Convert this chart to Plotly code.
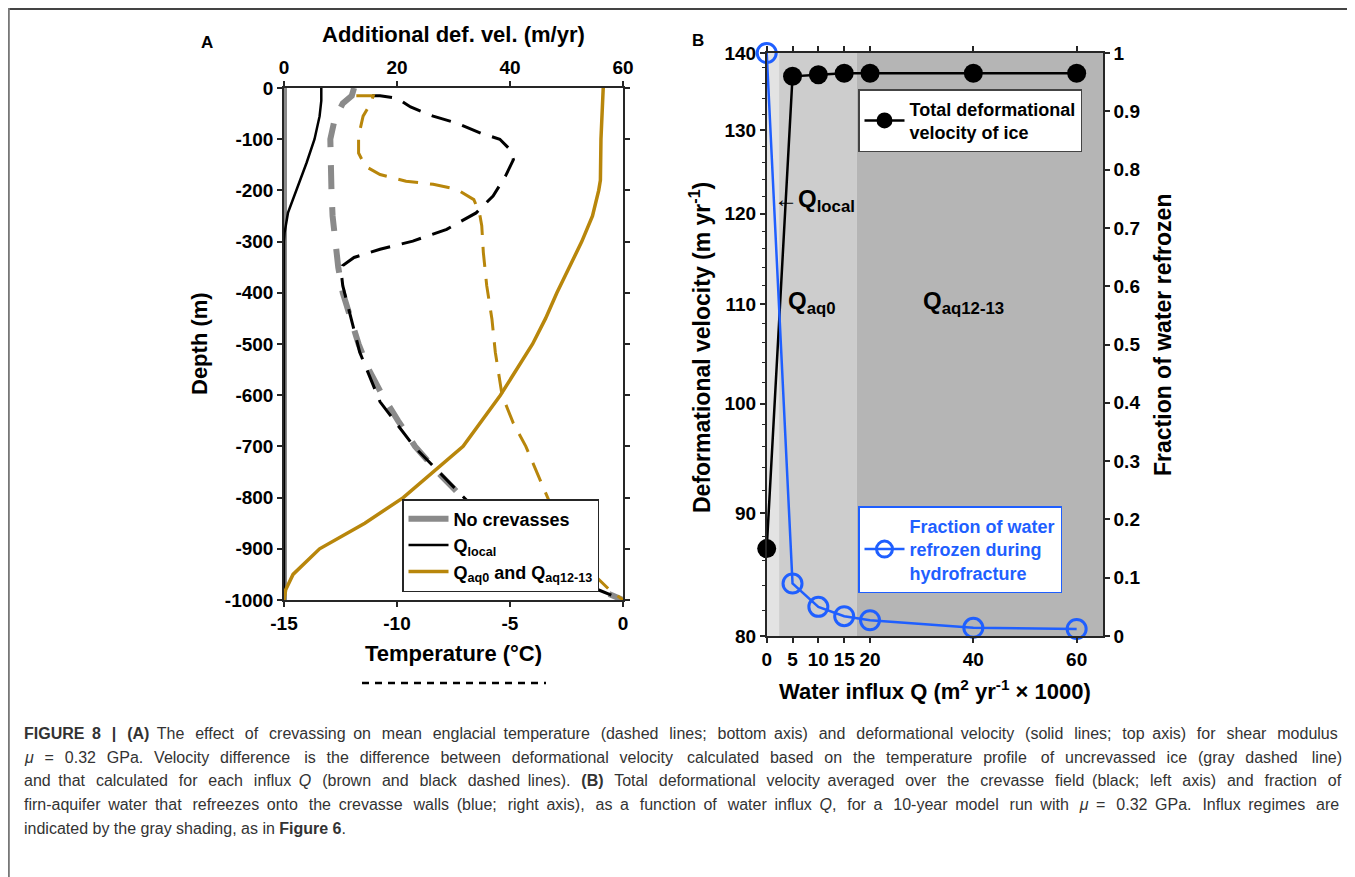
import plotly.graph_objects as go
import math

PAGE_W, PAGE_H = 1355, 877
OFF = 8                      # the page body margin in front of the figure
W, H = PAGE_W - OFF, PAGE_H - OFF

# ---------------- Panel A data ----------------
# Temperature profiles (dashed, bottom axis, degC)
depth_noc_T = [0, -15, -30, -60, -100, -150, -200, -250, -300, -350, -400, -450, -500,
               -550, -600, -650, -700, -750, -800, -850, -900, -950, -980, -1000]
temp_noc = [-11.9, -12.0, -12.4, -12.75, -12.95, -12.95, -12.9, -12.85, -12.75, -12.6, -12.4,
            -12.05, -11.7, -11.25, -10.65, -9.95, -9.2, -8.2, -7.1, -5.9, -4.5, -2.6, -1.1, 0.0]

depth_local_T = [-15, -15, -20, -37, -55, -68, -88, -100, -120, -140, -172, -211, -244, -276,
                 -299, -315, -331, -347, -367, -386, -438, -516, -613, -700, -797, -850, -900,
                 -950, -980, -1000]
temp_local = [-11.1, -10.75, -10.0, -9.4, -8.4, -7.4, -6.3, -5.45, -5.0, -4.85, -5.2, -5.75,
              -6.5, -7.8, -9.3, -10.75, -11.9, -12.4, -12.45, -12.4, -12.1, -11.65, -10.75,
              -9.25, -7.1, -5.9, -4.5, -2.6, -1.1, 0.0]

depth_aq_T = [-15, -15, -29, -55, -94, -127, -153, -169, -182, -188, -198, -218, -244, -269,
              -321, -386, -451, -516, -600, -655, -700, -758, -800, -850, -900, -950, -980, -1000]
temp_aq = [-11.8, -11.05, -11.15, -11.5, -11.7, -11.7, -11.4, -10.75, -9.6, -8.4, -7.35, -6.6,
           -6.35, -6.25, -6.18, -6.03, -5.8, -5.65, -5.35, -4.85, -4.3, -3.75, -3.35, -2.85,
           -2.2, -1.3, -0.6, 0.0]

# Additional deformational velocity (solid, top axis, m/yr)
depth_noc_V = [0, -1000]
vel_noc = [0, 0]

depth_local_V = [0, -25, -55, -100, -146, -200, -244, -283, -300, -400, -600, -800, -1000]
vel_local = [6.6, 6.6, 6.3, 5.4, 4.0, 2.2, 0.7, 0.1, 0.0, 0.0, 0.0, 0.0, 0.0]

depth_aq_V = [0, -100, -180, -200, -250, -300, -400, -450, -500, -600, -700, -750, -800,
              -850, -900, -950, -980, -1000]
vel_aq = [56.5, 56.1, 56.0, 55.7, 54.6, 52.7, 48.3, 46.3, 44.0, 38.3, 31.7, 26.4, 21.1,
          14.3, 6.3, 1.6, 0.3, 0.0]

temp_ticks = [-15, -10, -5, 0]
vel_ticks = [0, 20, 40, 60]
depth_ticks = list(range(-1000, 1, 100))

# ---------------- Panel B data ----------------
influx_Q = [0, 5, 10, 15, 20, 40, 60]
total_def_vel = [87.0, 136.9, 137.1, 137.3, 137.3, 137.3, 137.3]
frac_refrozen = [1.0, 0.09, 0.05, 0.034, 0.027, 0.014, 0.012]

regime_edges = [0, 2.4, 17.4, 65.1]
regime_colors = ["#e3e3e3", "#cdcdcd", "#b5b5b5"]

vel_axis_ticks = [80, 90, 100, 110, 120, 130, 140]
vel_minor_ticks = [v for v in range(82, 140, 2) if v % 10 != 0]
frac_ticks = [round(0.1 * i, 1) for i in range(11)]

# ---------------- styling ----------------
FONT = "Liberation Sans, Arial, sans-serif"
AX = "#262626"
BROWN = "#b8860b"
BLUE = "#1f5fff"
GRAY = "#8a8a8a"


def px(xp):
    return (xp - OFF) / W


def py(yp):
    return 1 - (yp - OFF) / H


def txt(v):
    return "%g" % v


fig = go.Figure()

# Panel A dashed temperature profiles (bottom axis)
fig.add_trace(go.Scatter(x=temp_noc, y=depth_noc_T, mode="lines", xaxis="x", yaxis="y",
                         line=dict(color=GRAY, width=6, dash="24px,18px"), showlegend=False))
fig.add_trace(go.Scatter(x=temp_local, y=depth_local_T, mode="lines", xaxis="x", yaxis="y",
                         line=dict(color="black", width=3, dash="20px,12px"), showlegend=False))
fig.add_trace(go.Scatter(x=temp_aq, y=depth_aq_T, mode="lines", xaxis="x", yaxis="y",
                         line=dict(color=BROWN, width=3, dash="20px,12px"), showlegend=False))

# Panel A solid velocity profiles (top axis)
fig.add_trace(go.Scatter(x=vel_noc, y=depth_noc_V, mode="lines", xaxis="x2", yaxis="y",
                         line=dict(color=GRAY, width=6), name="No crevasses", legend="legend"))
fig.add_trace(go.Scatter(x=vel_local, y=depth_local_V, mode="lines", xaxis="x2", yaxis="y",
                         line=dict(color="black", width=2.5), name="Q<sub>local</sub>",
                         legend="legend"))
fig.add_trace(go.Scatter(x=vel_aq, y=depth_aq_V, mode="lines", xaxis="x2", yaxis="y",
                         line=dict(color=BROWN, width=3.5),
                         name="Q<sub>aq0</sub> and Q<sub>aq12-13</sub>", legend="legend"))

# Panel B
fig.add_trace(go.Scatter(x=influx_Q, y=total_def_vel, mode="lines+markers", xaxis="x3",
                         yaxis="y3", cliponaxis=False,
                         line=dict(color="black", width=2.5),
                         marker=dict(color="black", size=19, symbol="circle"),
                         name="Total deformational<br>velocity of ice", legend="legend2"))
fig.add_trace(go.Scatter(x=influx_Q, y=frac_refrozen, mode="lines+markers", xaxis="x3",
                         yaxis="y4", cliponaxis=False,
                         line=dict(color=BLUE, width=2.5),
                         marker=dict(color=BLUE, size=19, symbol="circle-open",
                                     line=dict(color=BLUE, width=3)),
                         name="Fraction of water<br>refrozen during<br>hydrofracture",
                         legend="legend3"))

shapes = []
for i, c in enumerate(regime_colors):
    shapes.append(dict(type="rect", xref="x3", yref="y3 domain", x0=regime_edges[i],
                       x1=regime_edges[i + 1], y0=0, y1=1, fillcolor=c, line=dict(width=0),
                       layer="below"))
# frame
shapes.append(dict(type="line", xref="paper", yref="paper", x0=px(8.5), x1=1, y0=py(8.8),
                   y1=py(8.8), line=dict(color="#444444", width=2.5)))
shapes.append(dict(type="line", xref="paper", yref="paper", x0=px(8.8), x1=px(8.8), y0=py(8),
                   y1=0, line=dict(color="#777777", width=2)))
# dashed-line key under Temperature
shapes.append(dict(type="line", xref="paper", yref="paper", x0=px(362), x1=px(546),
                   y0=py(683), y1=py(683), line=dict(color="black", width=2.5, dash="7px,6px")))

tickfont = dict(family=FONT, size=19, color="black", weight="bold")
common = dict(showline=True, linecolor=AX, linewidth=1.5, ticks="outside", ticklen=5,
              tickwidth=1.5, tickcolor=AX, showgrid=False, zeroline=False, tickfont=tickfont,
              automargin=False)

fig.update_layout(
    template="none",
    width=W, height=H, margin=dict(l=0, r=0, t=0, b=0, pad=0, autoexpand=False),
    paper_bgcolor="white", plot_bgcolor="white", showlegend=True,
    xaxis=dict(domain=[px(284), px(623)], range=[-15, 0], anchor="y", side="bottom",
               tickmode="array", tickvals=temp_ticks, ticktext=[txt(v) for v in temp_ticks],
               **common),
    xaxis2=dict(domain=[px(284), px(623)], range=[0, 60], anchor="y", side="top",
                overlaying="x", tickmode="array", tickvals=vel_ticks,
                ticktext=[txt(v) for v in vel_ticks], **common),
    yaxis=dict(domain=[py(600), py(88)], range=[-1000, 0], anchor="x", tickmode="array",
               tickvals=depth_ticks, ticktext=[txt(v) for v in depth_ticks], mirror="ticks",
               **common),
    xaxis3=dict(domain=[px(766.7), px(1103)], range=[regime_edges[0], regime_edges[-1]],
                anchor="y3", tickmode="array", tickvals=influx_Q,
                ticktext=[txt(v) for v in influx_Q], mirror="ticks", **common),
    yaxis3=dict(domain=[py(636), py(53)], type="log",
                range=[math.log10(vel_axis_ticks[0]), math.log10(vel_axis_ticks[-1])],
                anchor="x3", tickmode="array", tickvals=vel_axis_ticks,
                ticktext=[txt(v) for v in vel_axis_ticks],
                minor=dict(tickmode="array", tickvals=vel_minor_ticks, ticks="outside",
                           ticklen=3, tickcolor=AX, tickwidth=1),
                **common),
    yaxis4=dict(domain=[py(636), py(53)], range=[0, 1], anchor="x3", overlaying="y3",
                side="right", tickmode="array", tickvals=frac_ticks,
                ticktext=[txt(v) for v in frac_ticks], **common),
    legend=dict(x=px(402), y=py(499), xanchor="left", yanchor="top", bgcolor="white",
                bordercolor=AX, borderwidth=1.5, itemwidth=40, tracegroupgap=0,
                font=dict(family=FONT, size=18, color="black", weight="bold")),
    legend2=dict(x=px(858), y=py(89), xanchor="left", yanchor="top", bgcolor="white",
                 bordercolor="#444444", borderwidth=1.5, itemwidth=40, valign="middle",
                 font=dict(family=FONT, size=18, color="black", weight="bold")),
    legend3=dict(x=px(858), y=py(506), xanchor="left", yanchor="top", bgcolor="white",
                 bordercolor=BLUE, borderwidth=1.5, itemwidth=40, valign="middle",
                 font=dict(family=FONT, size=18, color=BLUE, weight="bold")),
    shapes=shapes,
)

ann = []


def label(text, x, y, size=22, angle=0, xanchor="center", color="black", weight="bold"):
    ann.append(dict(text=text, x=px(x), y=py(y), xref="paper", yref="paper", showarrow=False,
                    xanchor=xanchor, yanchor="middle", textangle=angle,
                    font=dict(family=FONT, size=size, color=color, weight=weight)))


label("A", 207, 42, size=17)
label("B", 698, 41, size=17)
label("Additional def. vel. (m/yr)", 453, 35, size=22)
label("Temperature (°C)", 453, 653, size=22)
label("Depth (m)", 200, 344, size=22, angle=-90)
label("Deformational velocity (m yr<sup>-1</sup>)", 700, 348, size=23, angle=-90)
label("Fraction of water refrozen", 1163, 335, size=23, angle=-90)
label("Water influx Q (m<sup>2</sup> yr<sup>-1</sup> × 1000)", 935, 690, size=22)
label("<span style='font-weight:normal'>←</span>Q<sub>local</sub>", 772, 200, size=24,
      xanchor="left")
label("Q<sub>aq0</sub>", 786, 303, size=24, xanchor="left")
label("Q<sub>aq12-13</sub>", 921, 303, size=24, xanchor="left")

caption_lines = [
    "<b>FIGURE 8 | (A)</b> The effect of crevassing on mean englacial temperature (dashed lines; "
    "bottom axis) and deformational velocity (solid lines; top axis) for shear modulus",
    "<i>μ</i> = 0.32 GPa. Velocity difference is the difference between deformational velocity "
    "calculated based on the temperature profile of uncrevassed ice (gray dashed line)",
    "and that calculated for each influx <i>Q</i> (brown and black dashed lines). <b>(B)</b> "
    "Total deformational velocity averaged over the crevasse field (black; left axis) and fraction of",
    "firn-aquifer water that refreezes onto the crevasse walls (blue; right axis), as a function "
    "of water influx <i>Q</i>, for a 10-year model run with <i>μ</i> = 0.32 GPa. Influx regimes are",
    "indicated by the gray shading, as in <b>Figure 6</b>.",
]
# extra thin spaces spread over each justified line (0 = ragged last line)
caption_extra = [43, 50, 47, 44, 0]
caption_y = [733, 757, 780, 804, 828]


def justify(t, extra):
    parts = t.split(" ")
    n = len(parts) - 1
    if extra <= 0 or n <= 0:
        return t
    out = parts[0]
    for i in range(n):
        k = (extra * (i + 1)) // n - (extra * i) // n
        out += "\u2009" * k + " " + parts[i + 1]
    return out


for t, e, yy in zip(caption_lines, caption_extra, caption_y):
    ann.append(dict(text=justify(t, e), x=px(22), y=py(yy), xref="paper", yref="paper",
                    showarrow=False, xanchor="left", yanchor="middle",
                    font=dict(family=FONT, size=16, color="#333333")))

fig.update_layout(annotations=ann)
fig.write_html("out.html")
